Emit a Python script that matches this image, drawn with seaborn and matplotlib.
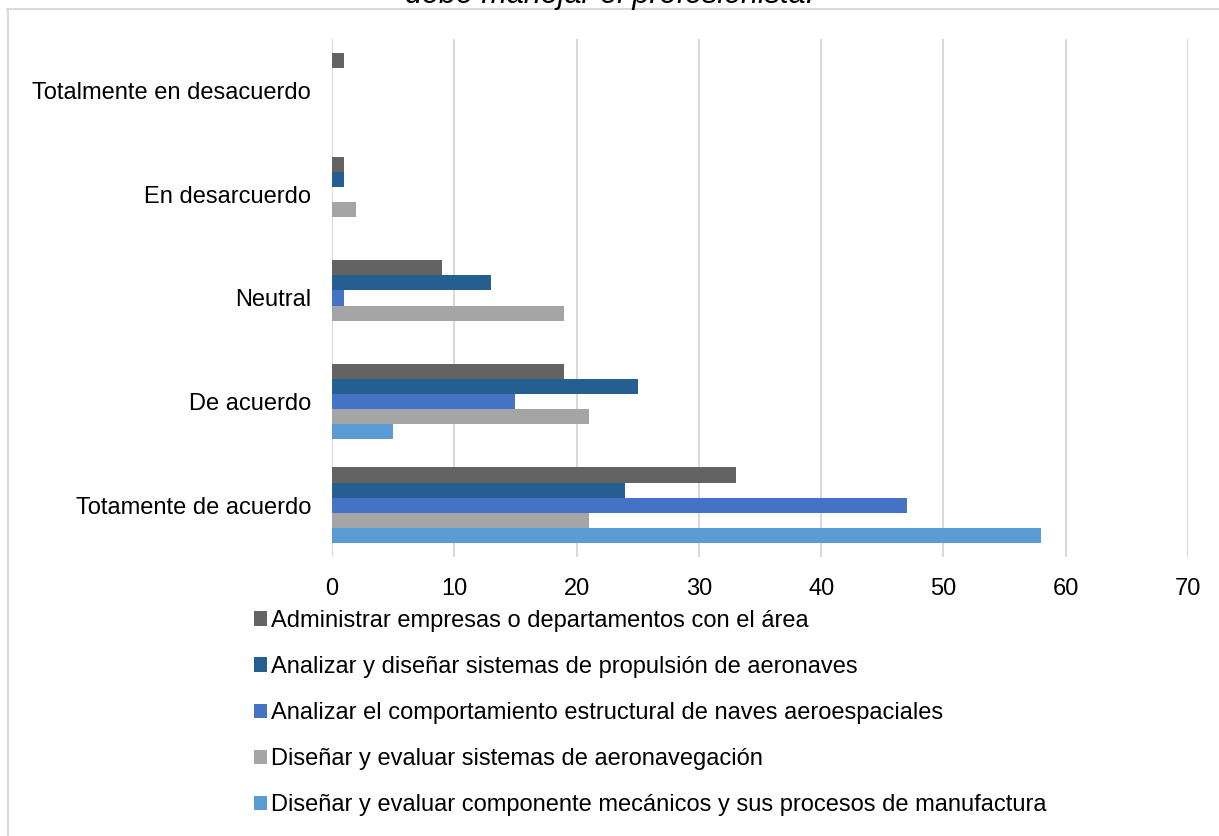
import numpy as np
import pandas as pd
import matplotlib.pyplot as plt
import seaborn as sns
from matplotlib.patches import Patch
from matplotlib.lines import Line2D

# datos
categorias = ["Totalmente en desacuerdo", "En desarcuerdo", "Neutral",
              "De acuerdo", "Totamente de acuerdo"]
series = [
    "Administrar empresas o departamentos con el área",
    "Analizar y diseñar sistemas de propulsión de aeronaves",
    "Analizar el comportamiento estructural de naves aeroespaciales",
    "Diseñar y evaluar sistemas de aeronavegación",
    "Diseñar y evaluar componente mecánicos y sus procesos de manufactura",
]
administrar = [1, 1, 9, 19, 33]
propulsion = [0, 1, 13, 25, 24]
estructural = [0, 0, 1, 15, 47]
aeronavegacion = [0, 2, 19, 21, 21]
mecanicos = [0, 0, 0, 5, 58]
colores = ["#636363", "#255e91", "#4472c4", "#a5a5a5", "#5b9bd5"]

valores = [administrar, propulsion, estructural, aeronavegacion, mecanicos]
df = pd.DataFrame([
    {"categoria": c, "serie": s, "valor": v}
    for s, vals in zip(series, valores)
    for c, v in zip(categorias, vals)
])

sns.set_style("white")
plt.rcParams["font.family"] = ["Liberation Sans", "DejaVu Sans"]
plt.rcParams["text.color"] = "black"

fig = plt.figure(figsize=(12.19, 8.36), dpi=100)
ax = fig.add_axes([332 / 1219, 1 - 557 / 836, (1188 - 332) / 1219, (557 - 39) / 836])

sns.barplot(data=df, y="categoria", x="valor", hue="serie", order=categorias,
            hue_order=series, palette=colores, orient="h", width=0.73,
            saturation=1, linewidth=0, ax=ax, legend=False)

ax.set_xlim(0, 70)
ax.set_ylim(4.5, -0.5)
ax.set_xticks(np.arange(0, 71, 10))
ax.grid(axis="x", color="#d9d9d9", linewidth=1.5)
ax.set_axisbelow(True)
for s in ax.spines.values():
    s.set_visible(False)
ax.tick_params(axis="both", length=0, labelsize=17, colors="black")
ax.tick_params(axis="x", pad=15)
ax.tick_params(axis="y", pad=15)
ax.set_xlabel("")
ax.set_ylabel("")

handles = [Patch(facecolor=c, edgecolor="none") for c in colores]
fig.legend(handles, series, loc="center left",
           bbox_to_anchor=(254 / 1219, 1 - 713 / 836), frameon=False,
           fontsize=17, handlelength=0.55, handleheight=0.55,
           handletextpad=0.15, labelspacing=1.02, borderpad=0,
           borderaxespad=0)

# título cortado en la parte superior
fig.text(0.5, 1 - 3 / 836, "debe manejar el profesionista.", ha="center",
         va="baseline", fontsize=22, style="italic")

# borde del área del gráfico
fig.add_artist(Line2D([7 / 1219, 1], [1 - 9 / 836, 1 - 9 / 836],
                      color="#d9d9d9", linewidth=1.5, transform=fig.transFigure))
fig.add_artist(Line2D([8 / 1219, 8 / 1219], [0, 1 - 9 / 836],
                      color="#d9d9d9", linewidth=1.5, transform=fig.transFigure))

fig.savefig("out.png", dpi=100)
